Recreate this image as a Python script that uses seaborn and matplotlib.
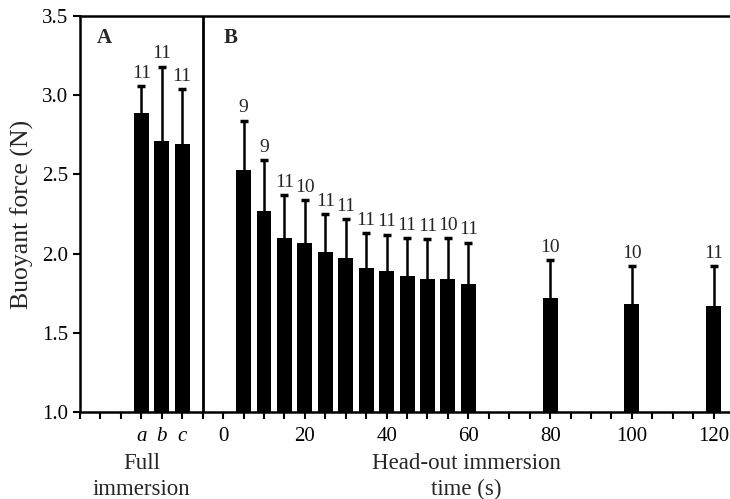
import matplotlib
matplotlib.use('Agg')
import matplotlib.pyplot as plt
import seaborn as sns
import pandas as pd

# Full immersion (panel A)
full_labels = ['a', 'b', 'c']
full_mean = [2.89, 2.71, 2.69]
full_top = [3.06, 3.18, 3.04]
full_n = [11, 11, 11]

# Head-out immersion (panel B)
times = [5, 10, 15, 20, 25, 30, 35, 40, 45, 50, 55, 60, 80, 100, 120]
head_mean = [2.53, 2.27, 2.10, 2.07, 2.01, 1.97, 1.91, 1.89, 1.86, 1.84, 1.84, 1.81, 1.72, 1.68, 1.67]
head_top = [2.84, 2.59, 2.37, 2.34, 2.25, 2.22, 2.13, 2.12, 2.10, 2.09, 2.10, 2.07, 1.96, 1.92, 1.92]
head_n = [9, 9, 11, 10, 11, 11, 11, 11, 11, 11, 10, 11, 10, 10, 11]

full_pos = [-20, -15, -10]

df = pd.DataFrame({
    'x': full_pos + times,
    'force': full_mean + head_mean,
    'top': full_top + head_top,
    'n': full_n + head_n,
})

sns.set_style('ticks')
plt.rcParams['font.family'] = ['Liberation Serif', 'DejaVu Serif']
plt.rcParams['font.size'] = 15

fig = plt.figure(figsize=(7.30, 4.99), dpi=100)
ax = fig.add_axes([0.1096, 0.1743, 0.8904, 0.7937])

sns.barplot(data=df, x='x', y='force', native_scale=True, color='black',
            width=0.73, errorbar=None, saturation=1, linewidth=0, ax=ax)

# upper error bars only
eb = ax.errorbar(df['x'], df['force'], yerr=[[0] * len(df), df['top'] - df['force']],
                 fmt='none', ecolor='black', elinewidth=1.8, capsize=3, capthick=2.5)
eb[1][0].set_visible(False)

for x, t, n in zip(df['x'], df['top'], df['n']):
    ax.annotate(str(n), (x, t), xytext=(0, 3), textcoords='offset points',
                ha='center', va='bottom', fontsize=14)

# divider between panels
ax.axvline(-5, color='black', linewidth=2)

ax.set_xlim(-35, 124)
ax.set_ylim(1.0, 3.5)
ax.set_yticks([1.0, 1.5, 2.0, 2.5, 3.0, 3.5])
ax.set_yticklabels(['1.0', '1.5', '2.0', '2.5', '3.0', '3.5'])

ticks = list(range(-35, 125, 5))
named = {-20: 'a', -15: 'b', -10: 'c', 0: '0', 20: '20', 40: '40', 60: '60',
         80: '80', 100: '100', 120: '120'}
ax.set_xticks(ticks)
ax.set_xticklabels([named.get(t, '') for t in ticks])
for lab, t in zip(ax.get_xticklabels(), ticks):
    if t < -5:
        lab.set_style('italic')

ax.tick_params(axis='both', direction='out', length=5, width=1.5, labelsize=15, colors='black')
ax.tick_params(axis='x', pad=6)
for s in ['left', 'bottom', 'top']:
    ax.spines[s].set_linewidth(1.8)
    ax.spines[s].set_color('black')
ax.spines['right'].set_visible(False)

ax.set_xlabel('')
ax.set_ylabel('Buoyant force (N)', fontsize=18.5, labelpad=6)

ax.text(-31, 3.36, 'A', fontsize=15, fontweight='bold', ha='left', va='center')
ax.text(0.2, 3.36, 'B', fontsize=15, fontweight='bold', ha='left', va='center')

ax.text(-20, -0.104, 'Full\nimmersion', transform=ax.get_xaxis_transform(),
        ha='center', va='top', fontsize=16.5, linespacing=1.3)
ax.text(59.5, -0.104, 'Head-out immersion\ntime (s)', transform=ax.get_xaxis_transform(),
        ha='center', va='top', fontsize=16.5, linespacing=1.3)

fig.savefig('out.png', dpi=100)
